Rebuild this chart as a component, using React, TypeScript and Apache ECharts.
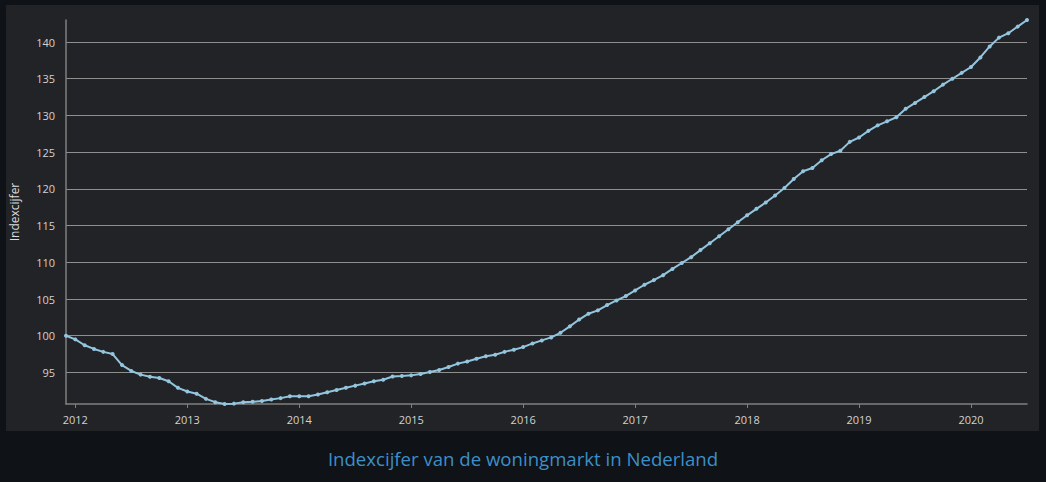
import React, { useEffect, useRef } from "react";
import * as echarts from "echarts";

const START_YEAR = 2011;
const START_MONTH = 12;

const indexValues: number[] = [
  100.0, 99.5, 98.7, 98.2, 97.8, 97.5, 96.0, 95.2, 94.7, 94.4, 94.25, 93.8,
  92.9, 92.4, 92.1, 91.4, 90.95, 90.7, 90.75, 90.95, 91.0, 91.1, 91.3, 91.5,
  91.75, 91.75, 91.75, 92.0, 92.3, 92.6, 92.9, 93.2, 93.5, 93.8, 94.0, 94.45,
  94.5, 94.6, 94.8, 95.06, 95.33, 95.74, 96.2, 96.5, 96.87, 97.2, 97.4, 97.8,
  98.1, 98.45, 98.95, 99.36, 99.77, 100.4, 101.27, 102.2, 103.0, 103.45, 104.17, 104.8,
  105.4, 106.17, 106.94, 107.57, 108.25, 109.1, 109.9, 110.7, 111.66, 112.6, 113.55, 114.5,
  115.45, 116.4, 117.28, 118.14, 119.1, 120.13, 121.35, 122.4, 122.84, 123.9, 124.74, 125.2,
  126.4, 127.0, 127.9, 128.65, 129.2, 129.75, 130.9, 131.7, 132.5, 133.3, 134.2, 135.0,
  135.8, 136.6, 137.9, 139.4, 140.6, 141.2, 142.1, 143.0,
];

const months: string[] = [];
for (let i = 0; i < indexValues.length; i++) {
  const m0 = START_MONTH - 1 + i;
  const y = START_YEAR + Math.floor(m0 / 12);
  const m = (m0 % 12) + 1;
  months.push(`${y}-${m < 10 ? "0" + m : m}`);
}

const yAxisName = "Indexcijfer";
const chartTitle = "Indexcijfer van de woningmarkt in Nederland";

export default function App() {
  const ref = useRef<HTMLDivElement>(null);
  useEffect(() => {
    if (!ref.current) return;
    const chart = echarts.init(ref.current, null, { renderer: "svg" });
    const font = "'Open Sans', 'Noto Sans', sans-serif";
    chart.setOption({
      animation: false,
      backgroundColor: "transparent",
      title: {
        text: chartTitle,
        left: "center",
        top: 444,
        textStyle: {
          color: "#3d8fc8",
          fontSize: 18.6,
          fontWeight: "normal",
          fontFamily: font,
        },
      },
      grid: { left: 63, right: 19, top: 20, bottom: 78 },
      xAxis: {
        type: "category",
        data: months,
        boundaryGap: false,
        axisLine: { show: true, lineStyle: { color: "#808080", width: 1.5 } },
        axisTick: {
          show: true,
          length: 4,
          lineStyle: { color: "#808080" },
          interval: (idx: number, val: string) => val.endsWith("-01"),
        },
        axisLabel: {
          color: "#d2d2d2",
          fontSize: 11,
          fontFamily: font,
          margin: 10,
          interval: (idx: number, val: string) => val.endsWith("-01"),
          formatter: (val: string) => val.slice(0, 4),
        },
        splitLine: { show: false },
      },
      yAxis: {
        type: "value",
        min: "dataMin",
        max: "dataMax",
        splitNumber: 10,
        name: yAxisName,
        nameLocation: "middle",
        nameGap: 46,
        nameTextStyle: { color: "#dcdcdc", fontSize: 12, fontFamily: font },
        axisLine: { show: true, lineStyle: { color: "#808080", width: 1.5 } },
        axisTick: { show: false },
        axisLabel: {
          color: "#d2d2d2",
          fontSize: 11,
          fontFamily: font,
          margin: 11,
          showMinLabel: false,
          showMaxLabel: false,
        },
        splitLine: {
          show: true,
          showMinLine: false,
          showMaxLine: false,
          lineStyle: { color: "#8f8f8f", width: 1.2 },
        },
      },
      series: [
        {
          type: "line",
          data: indexValues,
          symbol: "circle",
          symbolSize: 4,
          showSymbol: true,
          lineStyle: { color: "#93c6de", width: 2 },
          itemStyle: { color: "#93c6de" },
        },
      ],
    });
    return () => chart.dispose();
  }, []);

  return (
    <div
      style={{
        position: "absolute",
        left: 0,
        top: 0,
        width: 1046,
        height: 482,
        background: "#0f1217",
      }}
    >
      <div
        style={{
          position: "absolute",
          left: 6,
          top: 5,
          width: 1033,
          height: 426,
          background: "#222327",
        }}
      />
      <div
        ref={ref}
        style={{ position: "absolute", left: 0, top: 0, width: 1046, height: 482 }}
      />
    </div>
  );
}
